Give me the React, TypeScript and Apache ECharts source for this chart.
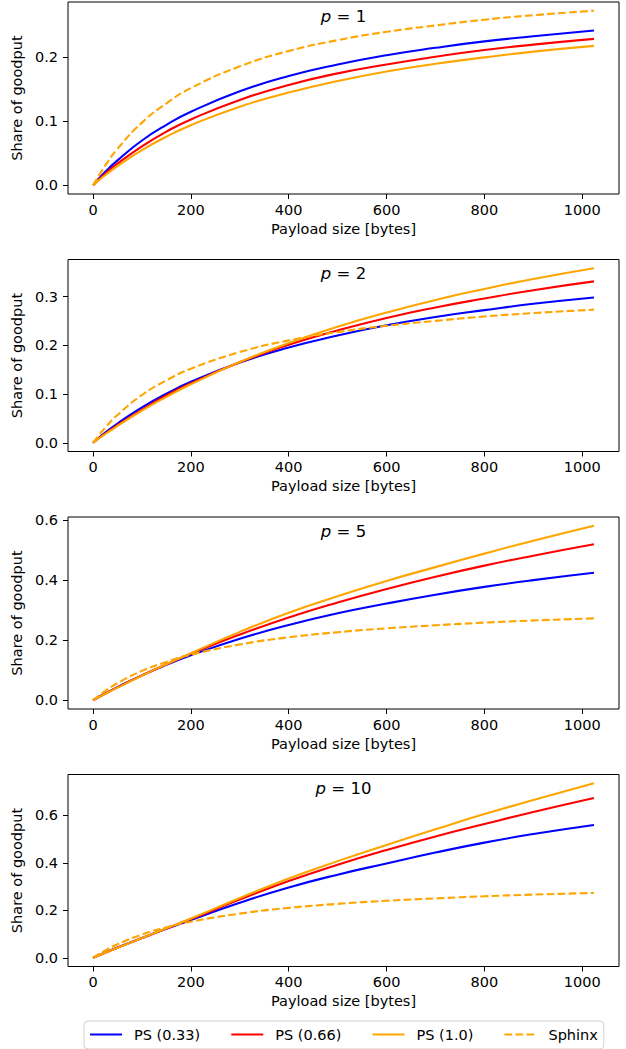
import React, { useEffect, useRef } from "react";
import * as echarts from "echarts";

const payloadSizes = [0, 25, 50, 100, 150, 200, 300, 400, 500, 600, 700, 800, 900, 1024];
const xTicks = [0, 200, 400, 600, 800, 1000];

const sphinx = [0, 0.031, 0.057, 0.098, 0.128, 0.152, 0.186, 0.21, 0.227, 0.24, 0.25, 0.259, 0.266, 0.273];

const p1Ps033 = [0, 0.021, 0.039, 0.07, 0.0945, 0.115, 0.147, 0.171, 0.189, 0.2035, 0.215, 0.225, 0.233, 0.242];
const p1Ps066 = [0, 0.018, 0.034, 0.061, 0.084, 0.103, 0.1335, 0.157, 0.175, 0.189, 0.201, 0.2115, 0.22, 0.229];
const p1Ps10 = [0, 0.016, 0.03, 0.055, 0.076, 0.094, 0.123, 0.145, 0.163, 0.178, 0.19, 0.2, 0.209, 0.218];

const p2Ps033 = [0, 0.021, 0.0395, 0.0725, 0.1005, 0.125, 0.1645, 0.1955, 0.22, 0.241, 0.258, 0.272, 0.285, 0.298];
const p2Ps066 = [0, 0.019, 0.036, 0.068, 0.097, 0.122, 0.165, 0.201, 0.2305, 0.256, 0.2775, 0.296, 0.313, 0.331];
const p2Ps10 = [0, 0.018, 0.0345, 0.066, 0.094, 0.12, 0.1655, 0.2045, 0.238, 0.267, 0.293, 0.3155, 0.336, 0.358];

const p5Ps033 = [0, 0.0225, 0.044, 0.083, 0.118, 0.15, 0.205, 0.251, 0.29, 0.3225, 0.352, 0.378, 0.4005, 0.425];
const p5Ps066 = [0, 0.022, 0.043, 0.083, 0.12, 0.155, 0.219, 0.276, 0.326, 0.371, 0.412, 0.449, 0.482, 0.52];
const p5Ps10 = [0, 0.0215, 0.042, 0.082, 0.12, 0.157, 0.228, 0.292, 0.347, 0.398, 0.444, 0.489, 0.532, 0.582];

const p10Ps033 = [0, 0.022, 0.043, 0.083, 0.122, 0.159, 0.232, 0.296, 0.35, 0.397, 0.443, 0.485, 0.521, 0.559];
const p10Ps066 = [0, 0.021, 0.042, 0.083, 0.123, 0.163, 0.245, 0.323, 0.392, 0.454, 0.511, 0.563, 0.614, 0.673];
const p10Ps10 = [0, 0.021, 0.042, 0.083, 0.124, 0.165, 0.252, 0.334, 0.407, 0.475, 0.541, 0.605, 0.664, 0.735];

const panelP = ["1", "2", "5", "10"];
const yTicks = [
  [0, 0.1, 0.2],
  [0, 0.1, 0.2, 0.3],
  [0, 0.2, 0.4, 0.6],
  [0, 0.2, 0.4, 0.6],
];
const panels = [
  [p1Ps033, p1Ps066, p1Ps10, sphinx],
  [p2Ps033, p2Ps066, p2Ps10, sphinx],
  [p5Ps033, p5Ps066, p5Ps10, sphinx],
  [p10Ps033, p10Ps066, p10Ps10, sphinx],
];
const seriesNames = ["PS (0.33)", "PS (0.66)", "PS (1.0)", "Sphinx"];
const seriesColors = ["#0000ff", "#ff0000", "#ffa500", "#ffa500"];

const FONT = "DejaVu Sans";
const FS = 14.5;
const GRID_LEFT = 68;
const GRID_WIDTH = 551;
const GRID_HEIGHT = 192;
const GRID_TOPS = [2, 259.5, 517, 774.5];

export default function App() {
  const ref = useRef<HTMLDivElement>(null);

  useEffect(() => {
    if (!ref.current) return;
    const chart = echarts.init(ref.current, undefined, { renderer: "svg" });

    const grids: any[] = [];
    const xAxes: any[] = [];
    const yAxes: any[] = [];
    const series: any[] = [];
    const graphics: any[] = [];

    panels.forEach((arrs, i) => {
      grids.push({
        left: GRID_LEFT,
        top: GRID_TOPS[i],
        width: GRID_WIDTH,
        height: GRID_HEIGHT,
        show: true,
        borderColor: "#000",
        borderWidth: 1,
        backgroundColor: "transparent",
      });
      const xmax = Math.max(...payloadSizes);
      xAxes.push({
        type: "value",
        gridIndex: i,
        position: "bottom",
        min: -0.05 * xmax,
        max: 1.05 * xmax,
        name: "Payload size [bytes]",
        nameLocation: "middle",
        nameGap: 27,
        nameTextStyle: { fontFamily: FONT, fontSize: FS, color: "#000" },
        axisLine: { show: false, onZero: false },
        splitLine: { show: false },
        axisTick: { show: true, customValues: xTicks, length: 5, lineStyle: { color: "#000", width: 1 } },
        axisLabel: {
          customValues: xTicks,
          margin: 8,
          fontFamily: FONT,
          fontSize: FS,
          color: "#000",
          formatter: (v: number) => String(Math.round(v)),
        },
      });
      const ymax = Math.max(...arrs.map((a) => Math.max(...a)));
      yAxes.push({
        type: "value",
        gridIndex: i,
        position: "left",
        min: -0.05 * ymax,
        max: 1.05 * ymax,
        name: "Share of goodput",
        nameLocation: "middle",
        nameGap: 41,
        nameTextStyle: { fontFamily: FONT, fontSize: FS, color: "#000" },
        axisLine: { show: false, onZero: false },
        splitLine: { show: false },
        axisTick: { show: true, customValues: yTicks[i], length: 5, lineStyle: { color: "#000", width: 1 } },
        axisLabel: {
          customValues: yTicks[i],
          margin: 10,
          fontFamily: FONT,
          fontSize: FS,
          color: "#000",
          formatter: (v: number) => v.toFixed(1),
        },
      });
      arrs.forEach((arr, k) => {
        series.push({
          type: "line",
          name: seriesNames[k],
          xAxisIndex: i,
          yAxisIndex: i,
          data: payloadSizes.map((x, j) => [x, arr[j]]),
          showSymbol: false,
          symbol: "none",
          smooth: 0.5,
          lineStyle: {
            color: seriesColors[k],
            width: 2.1,
            type: k === 3 ? [7.7, 3.3] : "solid",
          },
          itemStyle: { color: seriesColors[k] },
          z: 2 + k,
        });
      });
      graphics.push({
        type: "text",
        x: GRID_LEFT + GRID_WIDTH / 2,
        y: GRID_TOPS[i] + 14,
        style: {
          text: "{i|p} = " + panelP[i],
          align: "center",
          verticalAlign: "middle",
          fontFamily: FONT,
          fontSize: 16.5,
          fill: "#000",
          rich: {
            i: { fontStyle: "italic", fontFamily: FONT, fontSize: 16.5, fill: "#000" },
          },
        },
      });
    });

    chart.setOption({
      animation: false,
      backgroundColor: "#fff",
      grid: grids,
      xAxis: xAxes,
      yAxis: yAxes,
      series,
      graphic: graphics,
      legend: {
        data: seriesNames.map((n) => ({ name: n })),
        left: 84,
        top: 1021,
        orient: "horizontal",
        itemWidth: 32,
        itemHeight: 14,
        itemGap: 30,
        padding: [6, 6, 7, 5],
        borderColor: "#d0d0d0",
        borderWidth: 1,
        borderRadius: 4,
        backgroundColor: "#fff",
        itemStyle: { opacity: 0 },
        lineStyle: { width: 2.1 },
        textStyle: { fontFamily: FONT, fontSize: FS, color: "#000", padding: [0, 0, 0, 7] },
        selectedMode: false,
      },
    });

    return () => chart.dispose();
  }, []);

  return (
    <div
      ref={ref}
      style={{ position: "absolute", left: 0, top: 0, width: 626, height: 1049, background: "#fff" }}
    />
  );
}
